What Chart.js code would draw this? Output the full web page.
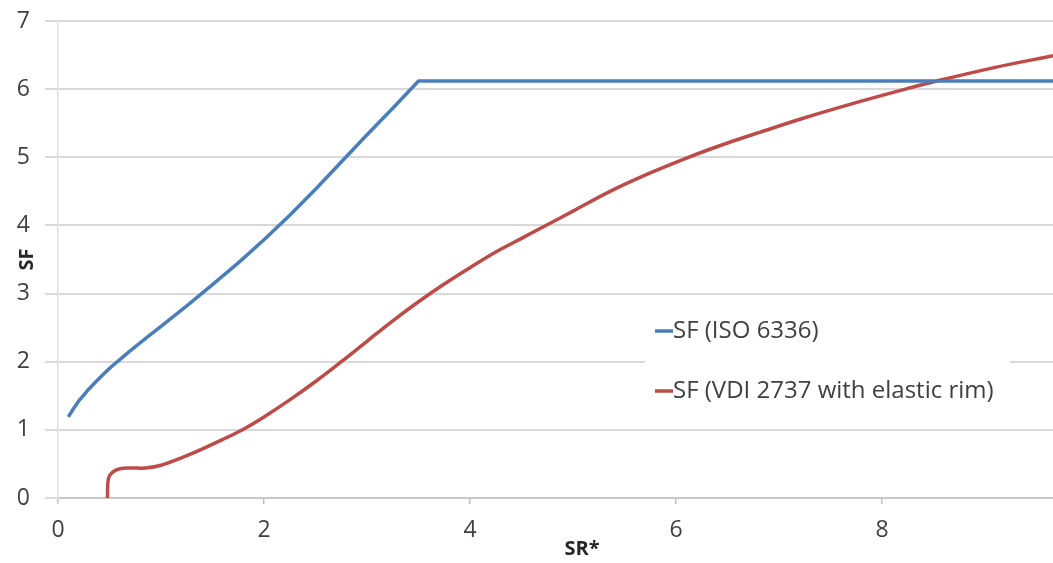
<!DOCTYPE html>
<html>
<head>
<meta charset="utf-8">
<script src="https://cdn.jsdelivr.net/npm/chart.js@4/dist/chart.umd.min.js"></script>
<style>
  html, body { margin: 0; padding: 0; background: #ffffff; }
  #wrap { width: 1053px; height: 563px; }
</style>
</head>
<body>
<div id="wrap"><canvas id="c" width="1053" height="563"></canvas></div>
<script>
// Safety factor SF against relative rim thickness SR*
const isoX = [0.1, 0.15, 0.2, 0.25, 0.3, 0.37, 0.45, 0.52, 0.6, 0.7, 0.8, 0.9, 1.0, 1.25, 1.5, 1.75, 2.0, 2.25, 2.5, 2.75, 3.0, 3.25, 3.5, 9.66];
const isoY = [1.19, 1.31, 1.42, 1.51, 1.60, 1.71, 1.83, 1.93, 2.03, 2.16, 2.28, 2.40, 2.52, 2.82, 3.13, 3.45, 3.79, 4.15, 4.53, 4.93, 5.33, 5.72, 6.12, 6.12];

const vdiX = [0.48, 0.49, 0.53, 0.6, 0.7, 0.85, 1.0, 1.28, 1.6, 1.8, 2.0, 2.25, 2.5, 2.75, 3.0, 3.25, 3.5, 3.75, 4.0, 4.25, 4.5, 4.75, 5.0, 5.36, 5.75, 6.12, 6.5, 6.82, 7.25, 7.79, 8.2, 8.56, 9.1, 9.66];
const vdiY = [0.0, 0.29, 0.38, 0.43, 0.44, 0.44, 0.48, 0.64, 0.86, 1.01, 1.19, 1.44, 1.71, 2.0, 2.3, 2.6, 2.88, 3.14, 3.38, 3.61, 3.81, 4.01, 4.21, 4.5, 4.77, 5.0, 5.21, 5.37, 5.58, 5.82, 5.99, 6.13, 6.32, 6.49];

const seriesNames = ['SF (ISO 6336)', 'SF (VDI 2737 with elastic rim)'];
const seriesColors = ['#4a7ebb', '#be4b48'];
const xTicks = [0, 2, 4, 6, 8];
const yTicks = [0, 1, 2, 3, 4, 5, 6, 7];
const xTitle = 'SR*';
const yTitle = 'SF';

const toPoints = (xs, ys) => xs.map((x, i) => ({ x: x, y: ys[i] }));

const FONT = "'Open Sans', 'Liberation Sans', sans-serif";
const TEXT = '#404040';

// Axis titles and the in-plot legend box
const decorations = {
  id: 'decorations',
  beforeDatasetsDraw(chart) {
    const ctx = chart.ctx;
    const a = chart.chartArea;
    ctx.save();
    ctx.fillStyle = '#ffffff';
    ctx.fillRect(a.left + 587, a.top + 279, 365, 122);
    ctx.restore();
  },
  afterDraw(chart) {
    const ctx = chart.ctx;
    const a = chart.chartArea;
    ctx.save();
    // legend entries
    ctx.font = '24px ' + FONT;
    ctx.textBaseline = 'middle';
    ctx.textAlign = 'left';
    chart.data.datasets.forEach((ds, i) => {
      const y = a.top + 310 + i * 60;
      ctx.strokeStyle = ds.borderColor;
      ctx.lineWidth = 3.5;
      ctx.beginPath();
      ctx.moveTo(a.left + 597, y);
      ctx.lineTo(a.left + 615, y);
      ctx.stroke();
      ctx.fillStyle = TEXT;
      ctx.fillText(ds.label, a.left + 615, y);
    });
    // axis titles
    ctx.fillStyle = '#262626';
    ctx.font = 'bold 20px ' + FONT;
    ctx.textAlign = 'center';
    ctx.fillText(xTitle, a.left + 524, a.bottom + 51);
    ctx.translate(a.left - 31, (a.top + a.bottom) / 2);
    ctx.rotate(-Math.PI / 2);
    ctx.fillText(yTitle, 0, 0);
    ctx.restore();
  }
};

new Chart(document.getElementById('c'), {
  type: 'line',
  data: {
    datasets: [
      {
        label: seriesNames[0],
        data: toPoints(isoX, isoY),
        borderColor: seriesColors[0],
        borderWidth: 3.5,
        pointRadius: 0,
        fill: false,
        tension: 0,
        borderJoinStyle: 'round'
      },
      {
        label: seriesNames[1],
        data: toPoints(vdiX, vdiY),
        borderColor: seriesColors[1],
        borderWidth: 3.5,
        pointRadius: 0,
        fill: false,
        tension: 0.35,
        borderJoinStyle: 'round'
      }
    ]
  },
  options: {
    responsive: false,
    animation: false,
    layout: { padding: { left: 0, right: 0, top: 21, bottom: 0 } },
    plugins: { legend: { display: false }, tooltip: { enabled: false } },
    scales: {
      x: {
        type: 'linear',
        min: 0,
        max: 9.66,
        afterBuildTicks: (s) => { s.ticks = xTicks.map(v => ({ value: v })); },
        afterFit: (s) => { s.height = 65; s.paddingLeft = 0; s.paddingRight = 0; },
        grid: { drawOnChartArea: false, drawTicks: true, tickLength: 6, color: '#bfbfbf', lineWidth: 1.5 },
        border: { display: true, color: '#c8c8c8', width: 2 },
        ticks: { color: TEXT, font: { family: FONT, size: 23 }, padding: 13, maxRotation: 0 }
      },
      y: {
        type: 'linear',
        min: 0,
        max: 7,
        afterBuildTicks: (s) => { s.ticks = yTicks.map(v => ({ value: v })); },
        afterFit: (s) => { s.width = 58; s.paddingTop = 0; s.paddingBottom = 0; },
        grid: { color: '#d9d9d9', lineWidth: 2, tickLength: 13 },
        border: { display: true, color: '#e0e0e0', width: 1.5 },
        ticks: { color: TEXT, font: { family: FONT, size: 23 }, padding: 15 }
      }
    }
  },
  plugins: [decorations]
});
</script>
</body>
</html>
